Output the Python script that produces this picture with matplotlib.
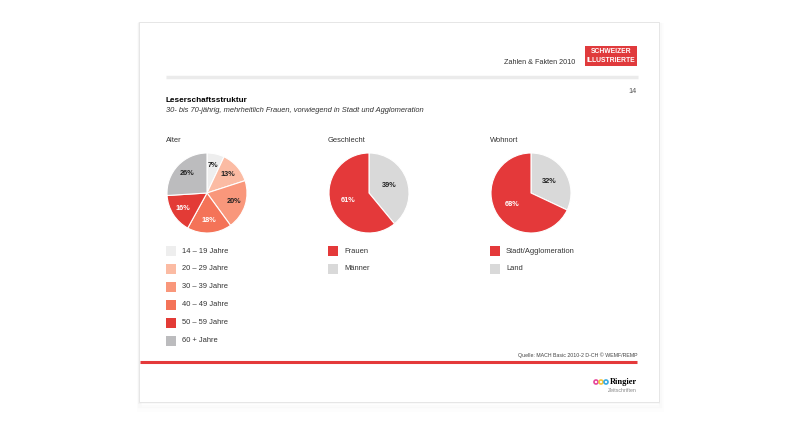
import matplotlib
matplotlib.use('Agg')
import matplotlib.pyplot as plt
from matplotlib.patches import Rectangle, Circle

plt.rcParams['font.family'] = ['Liberation Sans', 'DejaVu Sans']

# data
alter_labels = ['14 – 19 Jahre', '20 – 29 Jahre', '30 – 39 Jahre', '40 – 49 Jahre', '50 – 59 Jahre', '60 + Jahre']
alter_values = [7, 13, 20, 18, 16, 26]
alter_colors = ['#eeeeee', '#fbbba3', '#f9977b', '#f47358', '#e33b36', '#bcbcbe']
alter_text = ['#222222', '#222222', '#222222', 'white', 'white', '#222222']

geschlecht_labels = ['Frauen', 'Männer']
geschlecht_values = [61, 39]
wohnort_labels = ['Stadt/Agglomeration', 'Land']
wohnort_values = [68, 32]
red = '#e4393a'
grey = '#d9d9d9'

W, H = 800, 425
fig = plt.figure(figsize=(8, 4.25), dpi=100)
bg = fig.add_axes([0, 0, 1, 1])
bg.set_xlim(0, W)
bg.set_ylim(H, 0)
bg.axis('off')

# card with soft shadow
for i, a in enumerate([0.025, 0.015, 0.008]):
    bg.add_patch(Rectangle((139, 23 + i), 520 + i, 380 + 2 * i, facecolor='none',
                           edgecolor='black', alpha=a, lw=1.5 + i))
bg.add_patch(Rectangle((139, 22), 520, 380, facecolor='white', edgecolor='#e6e6e6', lw=0.7))

# header
bg.text(575, 62, 'Zahlen & Fakten 2010', fontsize=5.2, color='#333333', ha='right', va='center')
bg.add_patch(Rectangle((585, 46), 52, 20, facecolor='#e03a3c', edgecolor='none'))
bg.text(611, 51.5, 'SCHWEIZER', fontsize=4.9, color='white', weight='bold', ha='center', va='center')
bg.text(611, 60.5, 'ILLUSTRIERTE', fontsize=4.9, color='white', weight='bold', ha='center', va='center')
bg.plot([166, 638], [77, 77], color='#ebebeb', lw=2.5, solid_capstyle='butt')
bg.text(637, 91, '14', fontsize=5.2, color='#555555', ha='right', va='center')
bg.text(166, 100, 'Leserschaftsstruktur', fontsize=5.9, weight='bold', color='black', va='center')
bg.text(166, 110, '30- bis 70-jährig, mehrheitlich Frauen, vorwiegend in Stadt und Agglomeration',
        fontsize=5.4, style='italic', color='#333333', va='center')

# footer
bg.text(637, 355, 'Quelle: MACH Basic 2010-2 D-CH © WEMF/REMP', fontsize=3.8, color='#444444',
        ha='right', va='center')
bg.plot([140, 637], [362, 362], color=red, lw=2.2, solid_capstyle='butt')
for cx, c in zip([596, 601, 606], ['#e6479b', '#f2c53d', '#36a9e1']):
    bg.add_patch(Circle((cx, 382), 2, facecolor='none', edgecolor=c, lw=1.2))
bg.text(637, 382, 'Ringier', fontsize=6, weight='bold', family='Liberation Serif',
        ha='right', va='center', color='black')
bg.text(637, 391, 'Zeitschriften', fontsize=3.8, color='#888888', ha='right', va='center')


def pie_at(x0, y0, values, colors, txt_colors, pctd, title):
    ax = fig.add_axes([(x0 - 40) / W, (H - (y0 + 40)) / H, 80 / W, 80 / H])
    wedges, _, autot = ax.pie(values, colors=colors, startangle=90, counterclock=False,
                              autopct=lambda p: f'{p:.0f}%', pctdistance=pctd,
                              wedgeprops=dict(edgecolor='white', linewidth=0.8),
                              textprops=dict(fontsize=5.3, weight='bold'))
    for t, c in zip(autot, txt_colors):
        t.set_color(c)
    ax.set_xlim(-1, 1)
    ax.set_ylim(-1, 1)
    ax.set_aspect('equal')
    bg.text(x0 - 41, 140, title, fontsize=5.4, color='#333333', va='center')


def legend_at(x0, labels, colors):
    for i, (lab, c) in enumerate(zip(labels, colors)):
        yy = 251 + 18 * i
        bg.add_patch(Rectangle((x0, yy - 5), 10, 10, facecolor=c, edgecolor='none'))
        bg.text(x0 + 16, yy, lab, fontsize=5.4, color='#333333', va='center')


pie_at(207, 193, alter_values, alter_colors, alter_text, 0.7, 'Alter')
pie_at(369, 193, [geschlecht_values[1], geschlecht_values[0]], [grey, red], ['#222222', 'white'],
       0.55, 'Geschlecht')
pie_at(531, 193, [wohnort_values[1], wohnort_values[0]], [grey, red], ['#222222', 'white'],
       0.55, 'Wohnort')

legend_at(166, alter_labels, alter_colors)
legend_at(328, geschlecht_labels, [red, grey])
legend_at(490, wohnort_labels, [red, grey])

fig.savefig('out.png', dpi=100)
